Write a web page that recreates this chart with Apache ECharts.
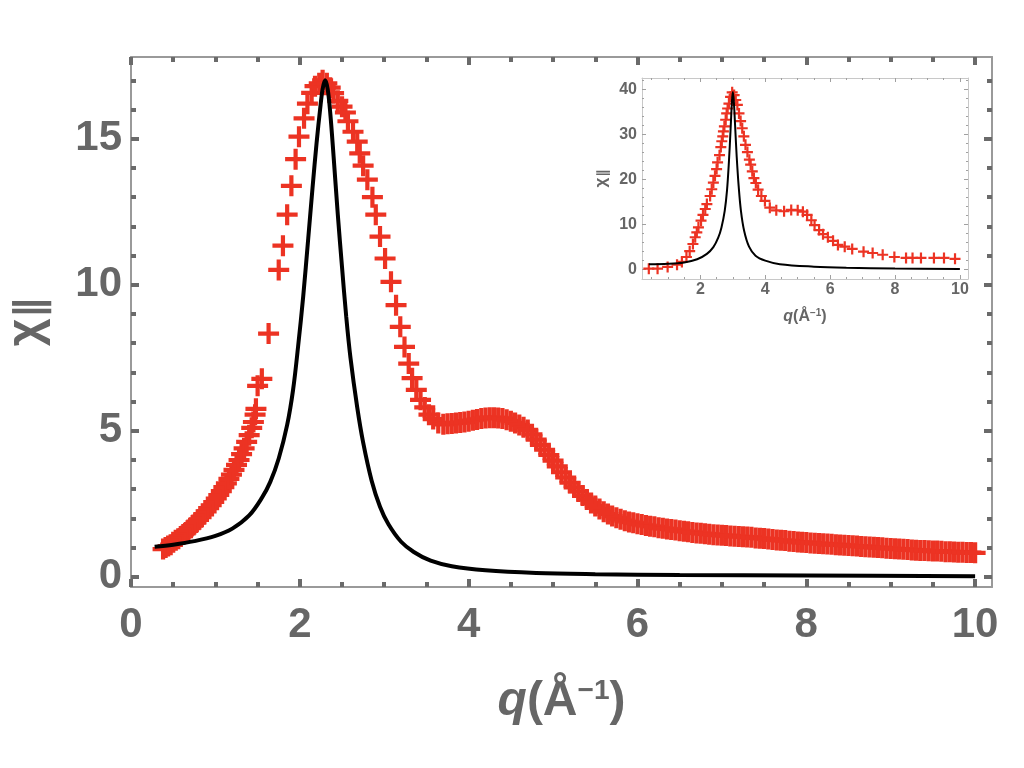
<!DOCTYPE html>
<html>
<head>
<meta charset="utf-8">
<title>chi parallel vs q</title>
<script src="https://cdn.jsdelivr.net/npm/echarts@6/dist/echarts.min.js"></script>
<style>
  html, body { margin: 0; padding: 0; background: #fff; }
  #chart { width: 1024px; height: 768px; }
</style>
</head>
<body>
<div id="chart"></div>
<script>
(function (window) {
  'use strict';

  // main panel: measured chi (red crosses), [q, chi]
  var mainMeasured = [
    [0.38, 0.95], [0.41, 1.0], [0.44, 1.05], [0.47, 1.1], [0.50, 1.18], [0.53, 1.25],
    [0.56, 1.3], [0.59, 1.38], [0.62, 1.45], [0.65, 1.52], [0.68, 1.6], [0.71, 1.68],
    [0.74, 1.77], [0.77, 1.86], [0.80, 1.95], [0.83, 2.04], [0.86, 2.14], [0.89, 2.24],
    [0.92, 2.35], [0.95, 2.45], [0.98, 2.56], [1.01, 2.68], [1.04, 2.8], [1.07, 2.93],
    [1.10, 3.07], [1.13, 3.2], [1.16, 3.35], [1.19, 3.5], [1.22, 3.66], [1.25, 3.83],
    [1.28, 4.0], [1.31, 4.2], [1.34, 4.4], [1.37, 4.62], [1.40, 4.85], [1.43, 5.1],
    [1.45, 5.3], [1.47, 5.55], [1.48, 5.75], [1.50, 6.54], [1.55, 6.78], [1.63, 8.33],
    [1.75, 10.51], [1.80, 11.34], [1.85, 12.4], [1.90, 13.39], [1.95, 14.3], [1.99, 15.07],
    [2.05, 15.7], [2.09, 16.2], [2.14, 16.57], [2.18, 16.8], [2.23, 16.9], [2.27, 17.0],
    [2.32, 16.9], [2.36, 16.75], [2.40, 16.56], [2.45, 16.3], [2.50, 16.1], [2.54, 15.9],
    [2.57, 15.6], [2.63, 15.24], [2.68, 14.9], [2.71, 14.5], [2.75, 14.08], [2.80, 13.6],
    [2.86, 13.0], [2.90, 12.4], [2.95, 11.65], [3.01, 10.9], [3.08, 10.1], [3.14, 9.3],
    [3.19, 8.56], [3.24, 7.87], [3.29, 7.3], [3.33, 6.8], [3.38, 6.4], [3.43, 6.06],
    [3.48, 5.8], [3.53, 5.55], [3.58, 5.4], [3.64, 5.27], [3.70, 5.22], [3.75, 5.24],
    [3.80, 5.25], [3.85, 5.27], [3.90, 5.28], [3.95, 5.3], [4.00, 5.33], [4.05, 5.36],
    [4.10, 5.39], [4.15, 5.42], [4.20, 5.44], [4.25, 5.45], [4.30, 5.45], [4.35, 5.44],
    [4.40, 5.42], [4.45, 5.38], [4.50, 5.33], [4.55, 5.27], [4.60, 5.2], [4.65, 5.12],
    [4.70, 5.03], [4.75, 4.88], [4.80, 4.7], [4.85, 4.52], [4.90, 4.35], [4.95, 4.17],
    [5.00, 3.98], [5.05, 3.78], [5.10, 3.58], [5.15, 3.4], [5.20, 3.22], [5.25, 3.06],
    [5.30, 2.92], [5.35, 2.78], [5.40, 2.65], [5.45, 2.53], [5.50, 2.42], [5.55, 2.32],
    [5.60, 2.23], [5.65, 2.15], [5.70, 2.08], [5.75, 2.02], [5.80, 1.97], [5.85, 1.92],
    [5.90, 1.88], [5.95, 1.85], [6.00, 1.82], [6.05, 1.79], [6.10, 1.76], [6.15, 1.73],
    [6.20, 1.71], [6.25, 1.68], [6.30, 1.66], [6.35, 1.64], [6.40, 1.62], [6.45, 1.6],
    [6.50, 1.58], [6.55, 1.56], [6.60, 1.54], [6.65, 1.52], [6.70, 1.5], [6.75, 1.49],
    [6.80, 1.47], [6.85, 1.46], [6.90, 1.44], [6.95, 1.43], [7.00, 1.42], [7.05, 1.41],
    [7.10, 1.4], [7.15, 1.39], [7.20, 1.38], [7.25, 1.37], [7.30, 1.36], [7.35, 1.35],
    [7.40, 1.33], [7.45, 1.32], [7.50, 1.31], [7.55, 1.29], [7.60, 1.28], [7.65, 1.26],
    [7.70, 1.25], [7.75, 1.24], [7.80, 1.22], [7.85, 1.21], [7.90, 1.19], [7.95, 1.18],
    [8.00, 1.17], [8.05, 1.16], [8.10, 1.15], [8.15, 1.14], [8.20, 1.13], [8.25, 1.12],
    [8.30, 1.11], [8.35, 1.1], [8.40, 1.09], [8.45, 1.08], [8.50, 1.07], [8.55, 1.06],
    [8.60, 1.05], [8.65, 1.04], [8.70, 1.03], [8.75, 1.02], [8.80, 1.01], [8.85, 1.0],
    [8.90, 0.99], [8.95, 0.98], [9.00, 0.97], [9.05, 0.96], [9.10, 0.95], [9.15, 0.94],
    [9.20, 0.93], [9.25, 0.92], [9.30, 0.91], [9.35, 0.9], [9.40, 0.9], [9.45, 0.89],
    [9.50, 0.88], [9.55, 0.88], [9.60, 0.87], [9.65, 0.86], [9.70, 0.86], [9.75, 0.85],
    [9.80, 0.84], [9.85, 0.84], [9.90, 0.83], [9.95, 0.83], [10.00, 0.82]
  ];

  // main panel: model curve (black line)
  var mainModel = [
    [0.28, 1.03], [0.50, 1.10], [0.75, 1.22], [1.00, 1.40], [1.20, 1.65], [1.40, 2.10],
    [1.55, 2.70], [1.65, 3.25], [1.75, 4.05], [1.85, 5.2], [1.92, 6.4], [1.98, 7.9],
    [2.04, 9.6], [2.10, 11.6], [2.15, 13.3], [2.20, 14.9], [2.24, 16.0], [2.27, 16.7],
    [2.30, 17.0], [2.33, 16.7], [2.36, 15.9], [2.40, 14.4], [2.45, 12.4], [2.50, 10.6],
    [2.55, 8.9], [2.60, 7.5], [2.68, 5.8], [2.75, 4.6], [2.85, 3.3], [2.95, 2.4],
    [3.05, 1.8], [3.20, 1.2], [3.35, 0.85], [3.55, 0.55], [3.80, 0.36], [4.20, 0.22],
    [4.80, 0.13], [5.50, 0.09], [6.50, 0.06], [8.00, 0.04], [10.00, 0.02]
  ];

  // inset: measured and model
  var insetMeasured = [
    [0.41, 0.1], [0.68, 0.1], [0.99, 0.5], [1.28, 1.0], [1.43, 1.6], [1.57, 2.7],
    [1.67, 4.0], [1.77, 5.6], [1.84, 7.1], [1.89, 8.2], [1.94, 9.3], [2.02, 10.8],
    [2.08, 12.1], [2.15, 13.4], [2.20, 14.5], [2.30, 16.3], [2.35, 17.8], [2.40, 19.3],
    [2.45, 20.8], [2.50, 22.3], [2.53, 23.8], [2.59, 25.4], [2.63, 27.2], [2.66, 28.5],
    [2.69, 29.6], [2.71, 30.7], [2.74, 31.8], [2.78, 33.3], [2.81, 34.7], [2.84, 35.8],
    [2.88, 36.9], [2.93, 38.4], [2.98, 39.4], [3.04, 38.8], [3.09, 37.7], [3.14, 36.6],
    [3.19, 34.7], [3.24, 33.0], [3.29, 31.4], [3.34, 29.6], [3.39, 27.7], [3.45, 26.1],
    [3.51, 24.4], [3.55, 23.3], [3.60, 21.8], [3.65, 20.3], [3.71, 19.2], [3.78, 17.7],
    [3.88, 16.3], [3.99, 15.2], [4.14, 13.7], [4.34, 13.1], [4.58, 12.9], [4.80, 13.2],
    [5.00, 13.1], [5.16, 12.8], [5.29, 12.1], [5.42, 10.9], [5.52, 9.8], [5.66, 8.7],
    [5.78, 7.8], [5.93, 7.1], [6.09, 6.3], [6.24, 5.4], [6.45, 5.0], [6.68, 4.5],
    [7.03, 3.9], [7.31, 3.6], [7.62, 3.2], [7.98, 2.7], [8.34, 2.5], [8.54, 2.5],
    [8.80, 2.5], [9.20, 2.5], [9.51, 2.5], [9.85, 2.3]
  ];
  var insetModel = [
    [0.41, 1.1], [1.00, 1.2], [1.50, 1.5], [1.90, 2.2], [2.20, 3.4], [2.40, 4.9],
    [2.55, 7.0], [2.65, 9.3], [2.75, 13.0], [2.82, 17.5], [2.88, 24.0], [2.93, 31.0],
    [2.97, 37.0], [3.00, 39.5], [3.03, 37.5], [3.07, 32.0], [3.12, 25.0], [3.18, 18.5],
    [3.25, 13.0], [3.35, 8.5], [3.50, 5.0], [3.70, 3.0], [4.00, 1.9], [4.45, 1.1],
    [5.50, 0.55], [6.50, 0.3], [8.00, 0.12], [10.00, 0.02]
  ];

  // tick values
  var mainXMajor = [0, 2, 4, 6, 8, 10];
  var mainXMinor = [0.5, 1, 1.5, 2.5, 3, 3.5, 4.5, 5, 5.5, 6.5, 7, 7.5, 8.5, 9, 9.5];
  var mainYMajor = [0, 5, 10, 15];
  var mainYMinor = [1, 2, 3, 4, 6, 7, 8, 9, 11, 12, 13, 14, 16, 17];
  var insetXMajor = [2, 4, 6, 8, 10];
  var insetXMinor = [0.5, 1, 1.5, 2.5, 3, 3.5, 4.5, 5, 5.5, 6.5, 7, 7.5, 8.5, 9, 9.5];
  var insetYMajor = [0, 10, 20, 30, 40];
  var insetYMinor = [2, 4, 6, 8, 12, 14, 16, 18, 22, 24, 26, 28, 32, 34, 36, 38, 42];

  var RED = '#ec3323';
  var GREY = '#666666';
  var PLUS = 'path://M0,8H8V0H12V8H20V12H12V20H8V12H0Z';

  var mainLook = { frame: '#9a9a9a', frameWidth: 2, tick: '#6a6a6a', tickWidth: 4,
    majorLen: 8, minorLen: 5, fontSize: 42, labelMargin: { x: 17, y: 9 } };
  var insetLook = { frame: '#c8c8c8', frameWidth: 1, tick: '#a0a0a0', tickWidth: 1,
    majorLen: 4, minorLen: 2, fontSize: 16, labelMargin: { x: 3, y: 5 } };

  function oneAxis(dim, grid, side, range, ticks, len, look, labels) {
    var ax = {
      type: 'value', gridIndex: grid, position: side,
      min: range[0], max: range[1],
      splitLine: { show: false },
      axisLine: { show: len === look.majorLen, onZero: false,
        lineStyle: { color: look.frame, width: look.frameWidth } },
      axisTick: { show: true, inside: true, length: len, customValues: ticks,
        lineStyle: { color: look.tick, width: look.tickWidth } },
      axisLabel: { show: false }
    };
    if (labels) {
      ax.axisLabel = { show: true, customValues: ticks, color: GREY,
        fontFamily: 'Liberation Sans', fontWeight: 'bold', fontSize: look.fontSize,
        margin: look.labelMargin[dim] };
    }
    return ax;
  }

  // four sides, each with major and minor ticks
  function frame(dim, grid, range, major, minor, look) {
    var sides = dim === 'x' ? ['bottom', 'top'] : ['left', 'right'];
    var out = [];
    sides.forEach(function (side, i) {
      out.push(oneAxis(dim, grid, side, range, major, look.majorLen, look, i === 0));
      out.push(oneAxis(dim, grid, side, range, minor, look.minorLen, look, false));
    });
    return out;
  }

  var xAxes = frame('x', 0, [0, 10.2], mainXMajor, mainXMinor, mainLook)
    .concat(frame('x', 1, [0.2, 10.25], insetXMajor, insetXMinor, insetLook));
  var yAxes = frame('y', 0, [-0.35, 17.8], mainYMajor, mainYMinor, mainLook)
    .concat(frame('y', 1, [-2.2, 42.6], insetYMajor, insetYMinor, insetLook));

  function qName(size, supSize, raise) {
    var base = { color: GREY, fontFamily: 'Liberation Sans', fontWeight: 'bold', fontSize: size };
    return {
      text: '{q|q}{t|(Å}{s|−1}{t|)}',
      rich: {
        q: Object.assign({}, base, { fontStyle: 'italic' }),
        t: base,
        s: Object.assign({}, base, { fontSize: supSize, padding: [0, 0, raise, 0] })
      }
    };
  }
  // chi with a lowered "parallel" subscript
  function chiName(size, subSize, drop) {
    var base = { color: GREY, fontFamily: 'Liberation Sans', fontWeight: 'bold', fontSize: size };
    return {
      text: '{c|χ}{p|∥}',
      rich: {
        c: Object.assign({}, base, { padding: [0, 1, drop, 0] }),
        p: Object.assign({}, base, { fontFamily: 'DejaVu Sans', fontSize: subSize })
      }
    };
  }

  var qMain = qName(48, 28, 22), qInset = qName(16, 10, 7);
  var cMain = chiName(48, 40, 12), cInset = chiName(17, 14, 4);
  xAxes[0].name = qMain.text; xAxes[0].nameTextStyle = { rich: qMain.rich };
  xAxes[0].nameLocation = 'middle'; xAxes[0].nameGap = 90;
  xAxes[4].name = qInset.text; xAxes[4].nameTextStyle = { rich: qInset.rich };
  xAxes[4].nameLocation = 'middle'; xAxes[4].nameGap = 29;
  yAxes[0].name = cMain.text; yAxes[0].nameTextStyle = { rich: cMain.rich };
  yAxes[0].nameLocation = 'middle'; yAxes[0].nameGap = 68;
  yAxes[4].name = cInset.text; yAxes[4].nameTextStyle = { rich: cInset.rich };
  yAxes[4].nameLocation = 'middle'; yAxes[4].nameGap = 28;

  var myChart = echarts.init(document.getElementById('chart'), null, { renderer: 'canvas' });
  var option = {
    backgroundColor: '#ffffff',
    animation: false,
    grid: [
      { left: 131, top: 57, width: 861, height: 530, containLabel: false, outerBoundsMode: 'none' },
      { left: 642, top: 78, width: 326, height: 201, containLabel: false, outerBoundsMode: 'none' }
    ],
    xAxis: xAxes,
    yAxis: yAxes,
    series: [
      {
        name: 'model', type: 'line', xAxisIndex: 0, yAxisIndex: 0,
        data: mainModel, showSymbol: false, smooth: 0.35,
        lineStyle: { color: '#000', width: 4 }, z: 3
      },
      {
        name: 'measured', type: 'scatter', xAxisIndex: 0, yAxisIndex: 0,
        data: mainMeasured, symbol: PLUS, symbolSize: 21,
        itemStyle: { color: RED, opacity: 1 }, z: 2
      },
      {
        name: 'inset model', type: 'line', xAxisIndex: 4, yAxisIndex: 4,
        data: insetModel, showSymbol: false, smooth: 0.35,
        lineStyle: { color: '#000', width: 2 }, z: 3
      },
      {
        name: 'inset measured', type: 'scatter', xAxisIndex: 4, yAxisIndex: 4,
        data: insetMeasured, symbol: PLUS, symbolSize: 11,
        itemStyle: { color: RED, opacity: 1 }, z: 2
      }
    ]
  };
  myChart.setOption(option);
})(window);
</script>
</body>
</html>
